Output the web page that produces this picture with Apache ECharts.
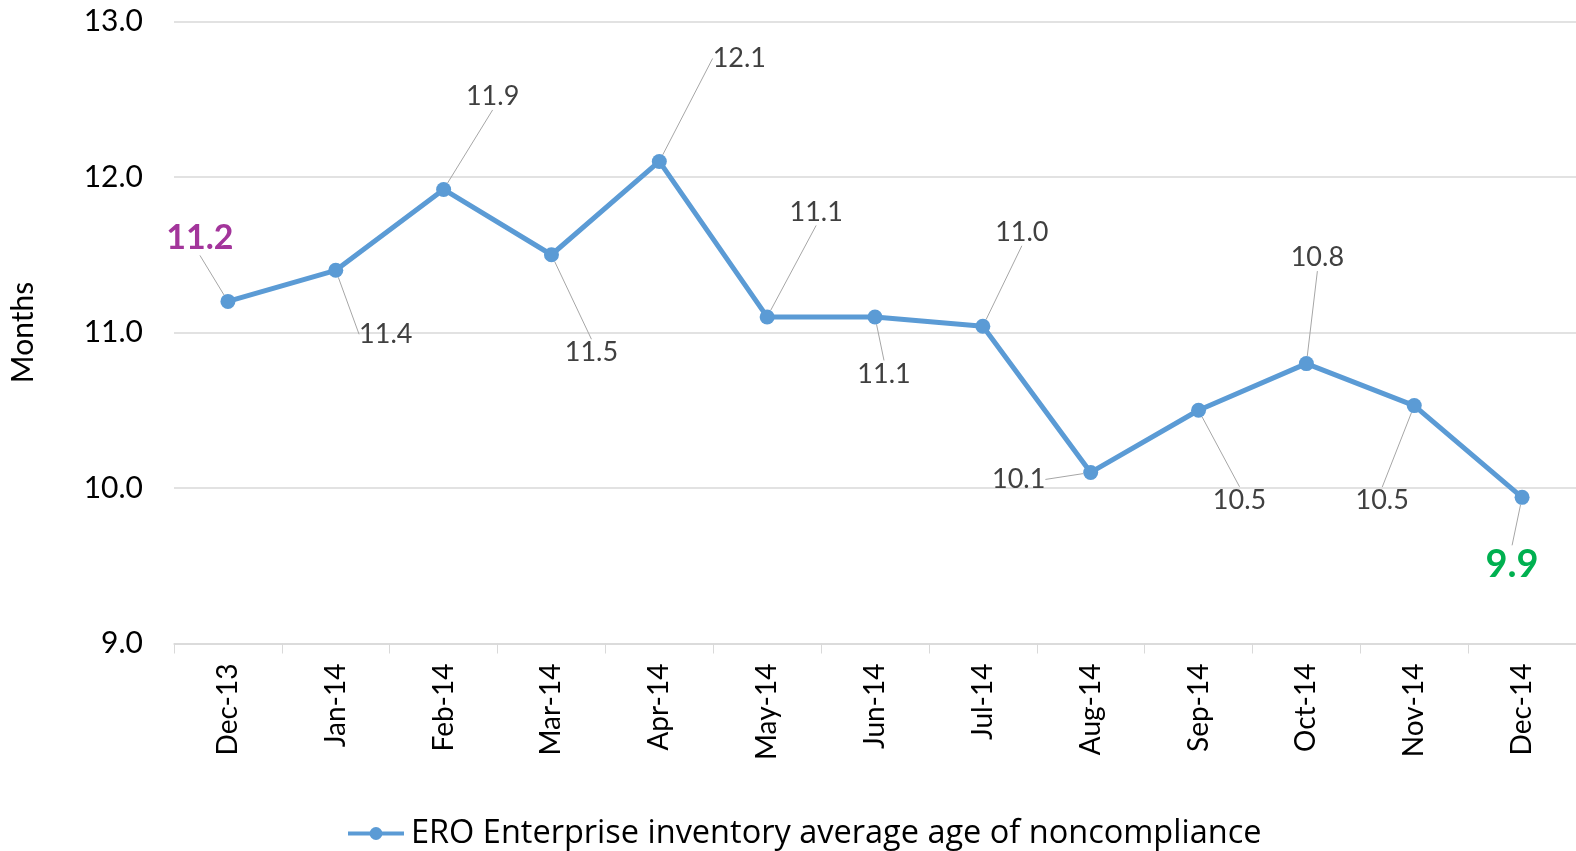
<!DOCTYPE html>
<html lang="en">
<head>
    <meta charset="UTF-8">
    <title>ERO Enterprise inventory average age of noncompliance</title>
    <script src="https://cdn.jsdelivr.net/npm/echarts@6/dist/echarts.min.js"></script>
    <style>
        html, body { margin: 0; padding: 0; background: #fff; }
        #main { width: 1576px; height: 851px; }
    </style>
</head>
<body>
    <div id="main"></div>

    <script type="text/javascript">
        // data
        var months = ['Dec-13', 'Jan-14', 'Feb-14', 'Mar-14', 'Apr-14', 'May-14', 'Jun-14',
                      'Jul-14', 'Aug-14', 'Sep-14', 'Oct-14', 'Nov-14', 'Dec-14'];
        var avgAge = [11.2, 11.4, 11.92, 11.5, 12.1, 11.1, 11.1, 11.04, 10.1, 10.5, 10.8, 10.53, 9.94];
        var seriesName = 'ERO Enterprise inventory average age of noncompliance';

        // label placement (offset of label centre from the point, px)
        var labelDx = [-28, 50, 49, 40, 80, 49, 9, 39, -72, 41, 11, -32, -10];
        var labelDy = [-63, 64, -93, 98, -103, -105, 57, -94, 7, 90, -106, 95, 67];

        var font = 'Lato';
        var blue = '#5b9bd5';

        var seriesData = avgAge.map(function (v, i) {
            var item = { value: v };
            if (i === 0) {
                item.label = { color: '#a3359b', fontWeight: 'bold', fontSize: 34 };
            } else if (i === avgAge.length - 1) {
                item.label = { color: '#00b050', fontWeight: 'bold', fontSize: 38 };
            }
            return item;
        });

        var myChart = echarts.init(document.getElementById('main'));
        myChart.setOption({
            animation: false,
            textStyle: { fontFamily: font },
            grid: { left: 170, right: -3, top: 21.5, bottom: 207.5 },
            legend: {
                bottom: -4,
                left: 341,
                itemWidth: 56,
                itemHeight: 16,
                itemGap: 0,
                lineStyle: { width: 4 },
                textStyle: { fontSize: 32.5, color: '#000', fontFamily: 'Open Sans', padding: [0, 0, 0, 2] },
                data: [seriesName]
            },
            xAxis: {
                type: 'category',
                data: months,
                boundaryGap: true,
                axisLine: { lineStyle: { color: '#d9d9d9', width: 1.5 } },
                axisTick: { show: true, length: 10, lineStyle: { color: '#d9d9d9' } },
                axisLabel: { rotate: 90, margin: 20, fontSize: 28, color: '#000', fontFamily: font }
            },
            yAxis: {
                type: 'value',
                min: 9,
                max: 13,
                interval: 1,
                name: 'Months',
                nameLocation: 'middle',
                nameGap: 136,
                nameTextStyle: { fontSize: 30, color: '#000', fontFamily: font },
                axisLine: { show: false },
                axisTick: { show: false },
                splitLine: { lineStyle: { color: '#d9d9d9', width: 1.5 } },
                axisLabel: {
                    margin: 31,
                    fontSize: 30,
                    color: '#000',
                    fontFamily: font,
                    formatter: function (v) { return v.toFixed(1); }
                }
            },
            series: [{
                name: seriesName,
                type: 'line',
                data: seriesData,
                symbol: 'circle',
                symbolSize: 15,
                lineStyle: { color: blue, width: 5 },
                itemStyle: { color: blue },
                label: {
                    show: true,
                    position: 'inside',
                    fontSize: 27,
                    color: '#404040',
                    fontFamily: font,
                    formatter: function (p) { return p.value.toFixed(1); }
                },
                labelLine: {
                    show: true,
                    lineStyle: { color: '#a6a6a6', width: 1 }
                },
                labelLayout: function (params) {
                    return { dx: labelDx[params.dataIndex], dy: labelDy[params.dataIndex] };
                }
            }]
        });
    </script>
</body>
</html>
